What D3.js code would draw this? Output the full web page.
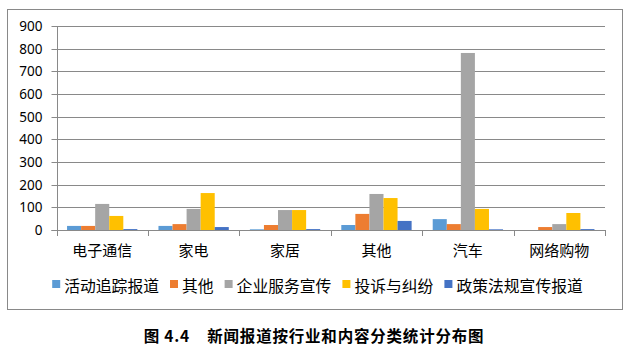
<!DOCTYPE html>
<html><head><meta charset="utf-8">
<script src="https://cdn.jsdelivr.net/npm/d3@7"></script>
<style>html,body{margin:0;padding:0;background:#fff;}svg{display:block;}</style>
</head><body>
<svg id="chart" width="630" height="347"></svg>
<script>
const categories = ["电子通信","家电","家居","其他","汽车","网络购物"];
const seriesNames = ["活动追踪报道","其他","企业服务宣传","投诉与纠纷","政策法规宣传报道"];
const colors = ["#5B9BD5","#ED7D31","#A5A5A5","#FFC000","#4472C4"];
const s1 = [18, 18, 3, 22, 48, 0];
const s2 = [18, 26, 22, 71, 26, 13];
const s3 = [115, 93, 88, 159, 781, 26];
const s4 = [62, 163, 88, 141, 93, 75];
const s5 = [4, 13, 4, 40, 3, 4];
const yTicks = [0,100,200,300,400,500,600,700,800,900];
const caption = "图 4.4    新闻报道按行业和内容分类统计分布图";
const series = [s1,s2,s3,s4,s5];

const svg = d3.select("#chart");
const L = 56.5, R = 605, T = 26, B = 230;
const gray = "#898989";

svg.append("rect").attr("x",7.5).attr("y",9.5).attr("width",615).attr("height",300)
  .attr("fill","#fff").attr("stroke",gray).attr("stroke-width",1);

const y = d3.scaleLinear().domain([0,900]).range([B,T]);
const x0 = d3.scaleBand().domain(categories).range([L,R]).padding(0);
const bw = x0.bandwidth();
const w = bw/6.5;
const x1 = d3.scaleBand().domain(seriesNames).range([0.75*w, bw-0.75*w]).padding(0);

// gridlines
svg.append("g").selectAll("line").data(yTicks.filter(d=>d>0)).join("line")
  .attr("x1",L).attr("x2",R)
  .attr("y1",d=>Math.round(y(d))+0.5).attr("y2",d=>Math.round(y(d))+0.5)
  .attr("stroke",gray).attr("stroke-width",1);

// bars
const gBars = svg.append("g");
series.forEach((vals,si)=>{
  gBars.append("g").selectAll("rect").data(vals).join("rect")
    .attr("x",(d,i)=>x0(categories[i])+x1(seriesNames[si]))
    .attr("width",x1.bandwidth())
    .attr("y",d=>y(d))
    .attr("height",d=>B-y(d))
    .attr("fill",colors[si]);
});

// y axis
const yAxis = d3.axisLeft(y).tickValues(yTicks).tickSize(6).tickPadding(9).tickFormat(d3.format("d"));
const gy = svg.append("g").attr("transform",`translate(${Math.round(L)+0.5},0)`).call(yAxis);
gy.select(".domain").attr("stroke",gray).attr("d",`M-6,${B+0.5}H0V${T}`);
gy.selectAll(".tick line").attr("stroke",gray);
gy.selectAll(".tick").attr("transform",d=>`translate(0,${Math.round(y(d))+0.5})`);
gy.selectAll("text").attr("font-family","'Noto Sans','DejaVu Sans',sans-serif").attr("font-size",13.5).attr("fill","#000");

// x axis
const xEdges = categories.map(c=>x0(c)).concat([R]);
const gx = svg.append("g");
gx.append("line").attr("x1",L).attr("x2",R).attr("y1",B+0.5).attr("y2",B+0.5).attr("stroke",gray);
gx.selectAll("line.t").data(xEdges).join("line").attr("class","t")
  .attr("x1",d=>Math.round(d)+0.5).attr("x2",d=>Math.round(d)+0.5)
  .attr("y1",B).attr("y2",B+6).attr("stroke",gray);
gx.selectAll("text").data(categories).join("text")
  .attr("x",d=>x0(d)+bw/2).attr("y",256)
  .attr("text-anchor","middle")
  .attr("font-family","'Noto Sans CJK SC',sans-serif").attr("font-size",15).attr("fill","#000")
  .text(d=>d);

// legend
const gl = svg.append("g");
const items = gl.selectAll("g").data(seriesNames).join("g");
items.append("rect").attr("width",8).attr("height",8).attr("y",280).attr("fill",(d,i)=>colors[i]);
items.append("text").attr("x",12).attr("y",292)
  .attr("font-family","'Noto Sans CJK SC',sans-serif").attr("font-size",15.8).attr("fill","#000")
  .text(d=>d);
let cx = 0;
const offs = [];
items.each(function(){
  const tw = d3.select(this).select("text").node().getComputedTextLength();
  offs.push(cx);
  cx += 12 + tw + 11;
});
const total = cx - 11;
const startX = 317.5 - total/2;
items.attr("transform",(d,i)=>`translate(${startX+offs[i]},0)`);

// caption
svg.append("text").attr("x",314).attr("y",342).attr("text-anchor","middle")
  .attr("font-family","'Noto Sans CJK SC',sans-serif").attr("font-size",15.5).attr("font-weight","bold")
  .attr("letter-spacing",0.8).attr("xml:space","preserve").style("white-space","pre")
  .attr("fill","#000").text(caption);
</script>
</body></html>
